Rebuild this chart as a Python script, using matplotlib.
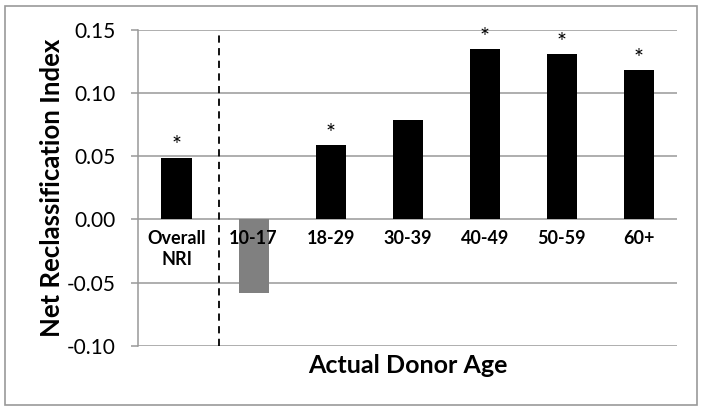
import matplotlib
matplotlib.use("Agg")
import matplotlib.pyplot as plt
from matplotlib.patches import Rectangle
import numpy as np

# data
categories = ["Overall\nNRI", "10-17", "18-29", "30-39", "40-49", "50-59", "60+"]
nri = [0.049, -0.058, 0.059, 0.079, 0.135, 0.131, 0.118]
significant = [True, False, True, False, True, True, True]
bar_colors = ["black", "#808080", "black", "black", "black", "black", "black"]
yticks = [-0.10, -0.05, 0.00, 0.05, 0.10, 0.15]

plt.rcParams["font.family"] = ["Lato", "DejaVu Sans"]

fig = plt.figure(figsize=(7.04, 4.12), dpi=100)
ax = fig.add_axes([0.196, 0.161, 0.766, 0.766])

x = np.arange(len(categories))
ax.bar(x, nri, width=0.39, color=bar_colors, zorder=3)

for xi, v, s in zip(x, nri, significant):
    if s:
        ax.text(xi, v + 0.001, "*", ha="center", va="bottom", fontsize=17, color="black")

for xi, lab in zip(x, categories):
    ax.text(xi, -0.0085, lab, ha="center", va="top", fontsize=13, fontweight="bold",
            linespacing=1.3)

ax.axvline(0.55, color="black", ls=(0, (4, 3)), lw=1.3, zorder=4)

ax.set_xlim(-0.5, len(categories) - 0.5)
ax.set_ylim(-0.10, 0.15)
ax.set_yticks(yticks)
ax.set_yticklabels([f"{t:.2f}" for t in yticks], fontsize=15)
ax.set_xticks([])
ax.yaxis.grid(True, color="#999999", lw=1.1, zorder=0)
ax.set_axisbelow(True)
ax.tick_params(axis="y", length=5, color="#999999", width=1.1, pad=11)
for s in ("top", "right", "bottom"):
    ax.spines[s].set_visible(False)
ax.spines["left"].set_color("#999999")
ax.spines["left"].set_linewidth(1.1)

ax.set_ylabel("Net Reclassification Index", fontsize=18.5, fontweight="bold", labelpad=2)
ax.set_xlabel("Actual Donor Age", fontsize=18, fontweight="bold", labelpad=6)

fig.patches.append(Rectangle((5 / 704, 1 - 405 / 412), 692 / 704, 399 / 412,
                             transform=fig.transFigure, fill=False, ec="#999999", lw=1.2))

fig.savefig("out.png", dpi=100)
